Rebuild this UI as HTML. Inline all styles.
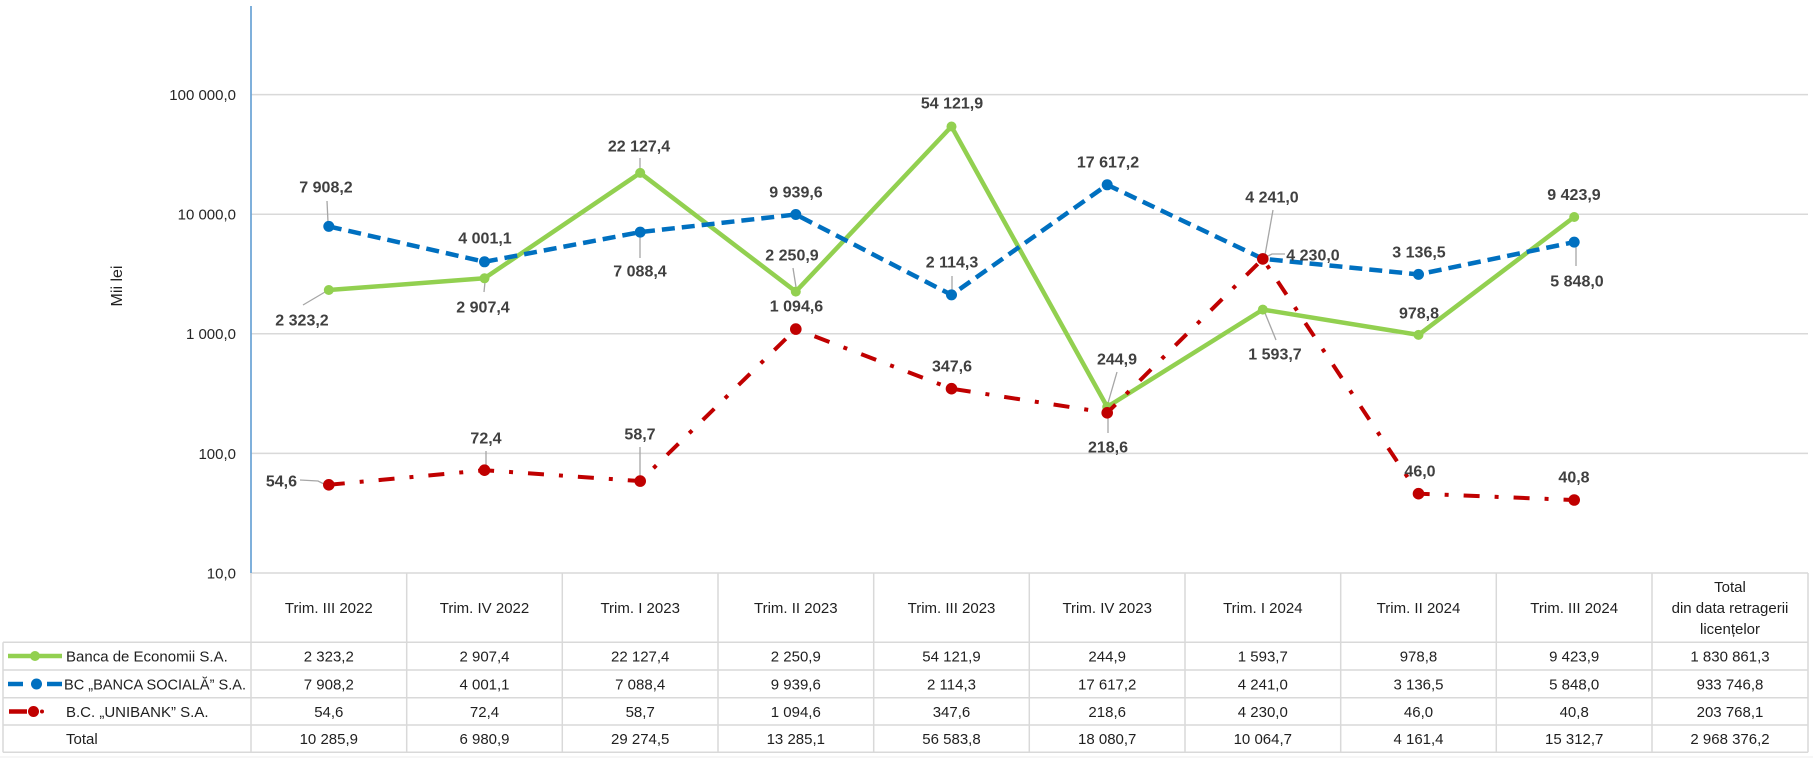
<!DOCTYPE html>
<html>
<head>
<meta charset="utf-8">
<style>
  html, body { margin: 0; padding: 0; background: #ffffff; }
  body { width: 1813px; height: 759px; overflow: hidden; }
  svg { display: block; }
  .tick { font-family: "Liberation Sans", sans-serif; font-size: 15px; fill: #262626; }
  .dl { font-family: "Liberation Sans", sans-serif; font-size: 16px; font-weight: bold; fill: #404040; }
  .tb { font-family: "Liberation Sans", sans-serif; font-size: 15px; fill: #1f1f1f; }
  .ld { stroke: #a6a6a6; stroke-width: 1.3; fill: none; }
</style>
</head>
<body>
<svg width="1813" height="759" viewBox="0 0 1813 759" xmlns="http://www.w3.org/2000/svg">
  <!-- gridlines -->
  <g stroke="#d9d9d9" stroke-width="1.5">
    <line x1="251" y1="94.6" x2="1808" y2="94.6"/>
    <line x1="251" y1="214.2" x2="1808" y2="214.2"/>
    <line x1="251" y1="333.8" x2="1808" y2="333.8"/>
    <line x1="251" y1="453.4" x2="1808" y2="453.4"/>
  </g>

  <!-- y axis labels -->
  <g class="tick" text-anchor="end">
    <text x="236" y="100">100 000,0</text>
    <text x="236" y="219.6">10 000,0</text>
    <text x="236" y="339.2">1 000,0</text>
    <text x="236" y="458.8">100,0</text>
    <text x="236" y="578.4">10,0</text>
  </g>
  <text transform="translate(122,286) rotate(-90)" text-anchor="middle" font-family="Liberation Sans, sans-serif" font-size="16" fill="#1f1f1f">Mii lei</text>

  <!-- table -->
  <g stroke="#d9d9d9" stroke-width="1.5" fill="none">
    <line x1="251" y1="573" x2="1808" y2="573"/>
    <line x1="3" y1="642.3" x2="1808" y2="642.3"/>
    <line x1="3" y1="670" x2="1808" y2="670"/>
    <line x1="3" y1="697.7" x2="1808" y2="697.7"/>
    <line x1="3" y1="725" x2="1808" y2="725"/>
    <line x1="3" y1="752.3" x2="1808" y2="752.3"/>
    <line x1="3" y1="642.3" x2="3" y2="752.3"/>
    <line x1="406.7" y1="573" x2="406.7" y2="752.3"/>
    <line x1="562.3" y1="573" x2="562.3" y2="752.3"/>
    <line x1="718" y1="573" x2="718" y2="752.3"/>
    <line x1="873.7" y1="573" x2="873.7" y2="752.3"/>
    <line x1="1029.3" y1="573" x2="1029.3" y2="752.3"/>
    <line x1="1185" y1="573" x2="1185" y2="752.3"/>
    <line x1="1340.7" y1="573" x2="1340.7" y2="752.3"/>
    <line x1="1496.3" y1="573" x2="1496.3" y2="752.3"/>
    <line x1="1652" y1="573" x2="1652" y2="752.3"/>
    <line x1="1808" y1="573" x2="1808" y2="752.3"/>
  </g>
  <line x1="0" y1="757" x2="1813" y2="757" stroke="#ececec" stroke-width="1"/>

  <!-- left axis -->
  <line x1="251" y1="6" x2="251" y2="752.3" stroke="#d9d9d9" stroke-width="1.5"/>
  <line x1="251" y1="6" x2="251" y2="573" stroke="#5b9bd5" stroke-width="1.5"/>

  <!-- header texts -->
  <g class="tb" text-anchor="middle">
    <text x="328.8" y="613">Trim. III 2022</text>
    <text x="484.5" y="613">Trim. IV 2022</text>
    <text x="640.2" y="613">Trim. I 2023</text>
    <text x="795.8" y="613">Trim. II 2023</text>
    <text x="951.5" y="613">Trim. III 2023</text>
    <text x="1107.2" y="613">Trim. IV 2023</text>
    <text x="1262.8" y="613">Trim. I 2024</text>
    <text x="1418.5" y="613">Trim. II 2024</text>
    <text x="1574.2" y="613">Trim. III 2024</text>
    <text x="1730" y="592">Total</text>
    <text x="1730" y="613">din data retragerii</text>
    <text x="1730" y="634">licențelor</text>
  </g>

  <!-- legend keys -->
  <line x1="8" y1="656" x2="62" y2="656" stroke="#92d050" stroke-width="4.5"/>
  <circle cx="35" cy="656" r="5" fill="#92d050"/>
  <line x1="8" y1="684" x2="23" y2="684" stroke="#0070c0" stroke-width="4.5"/>
  <line x1="47" y1="684" x2="62" y2="684" stroke="#0070c0" stroke-width="4.5"/>
  <circle cx="36.5" cy="684" r="5.5" fill="#0070c0"/>
  <line x1="9" y1="711.5" x2="27" y2="711.5" stroke="#c00000" stroke-width="4.5"/>
  <circle cx="33.5" cy="711.5" r="5.5" fill="#c00000"/>
  <circle cx="42" cy="711.5" r="2" fill="#c00000"/>

  <!-- row labels -->
  <g class="tb">
    <text x="66" y="661.4">Banca de Economii S.A.</text>
    <text x="64" y="689.4" textLength="182" lengthAdjust="spacingAndGlyphs">BC „BANCA SOCIALĂ” S.A.</text>
    <text x="66" y="716.9">B.C. „UNIBANK” S.A.</text>
    <text x="66" y="744.1">Total</text>
  </g>

  <!-- table values -->
  <g class="tb" text-anchor="middle">
    <text x="328.8" y="661.4">2 323,2</text>
    <text x="484.5" y="661.4">2 907,4</text>
    <text x="640.2" y="661.4">22 127,4</text>
    <text x="795.8" y="661.4">2 250,9</text>
    <text x="951.5" y="661.4">54 121,9</text>
    <text x="1107.2" y="661.4">244,9</text>
    <text x="1262.8" y="661.4">1 593,7</text>
    <text x="1418.5" y="661.4">978,8</text>
    <text x="1574.2" y="661.4">9 423,9</text>
    <text x="1730" y="661.4">1 830 861,3</text>

    <text x="328.8" y="689.4">7 908,2</text>
    <text x="484.5" y="689.4">4 001,1</text>
    <text x="640.2" y="689.4">7 088,4</text>
    <text x="795.8" y="689.4">9 939,6</text>
    <text x="951.5" y="689.4">2 114,3</text>
    <text x="1107.2" y="689.4">17 617,2</text>
    <text x="1262.8" y="689.4">4 241,0</text>
    <text x="1418.5" y="689.4">3 136,5</text>
    <text x="1574.2" y="689.4">5 848,0</text>
    <text x="1730" y="689.4">933 746,8</text>

    <text x="328.8" y="716.9">54,6</text>
    <text x="484.5" y="716.9">72,4</text>
    <text x="640.2" y="716.9">58,7</text>
    <text x="795.8" y="716.9">1 094,6</text>
    <text x="951.5" y="716.9">347,6</text>
    <text x="1107.2" y="716.9">218,6</text>
    <text x="1262.8" y="716.9">4 230,0</text>
    <text x="1418.5" y="716.9">46,0</text>
    <text x="1574.2" y="716.9">40,8</text>
    <text x="1730" y="716.9">203 768,1</text>

    <text x="328.8" y="744.1">10 285,9</text>
    <text x="484.5" y="744.1">6 980,9</text>
    <text x="640.2" y="744.1">29 274,5</text>
    <text x="795.8" y="744.1">13 285,1</text>
    <text x="951.5" y="744.1">56 583,8</text>
    <text x="1107.2" y="744.1">18 080,7</text>
    <text x="1262.8" y="744.1">10 064,7</text>
    <text x="1418.5" y="744.1">4 161,4</text>
    <text x="1574.2" y="744.1">15 312,7</text>
    <text x="1730" y="744.1">2 968 376,2</text>
  </g>

  <!-- leader lines -->
  <g class="ld">
    <line x1="303" y1="305" x2="325" y2="292"/>
    <line x1="484" y1="292" x2="485" y2="282"/>
    <line x1="640" y1="158" x2="640" y2="169"/>
    <line x1="793" y1="268" x2="796" y2="287"/>
    <line x1="1117" y1="372" x2="1108" y2="403"/>
    <line x1="1276" y1="340" x2="1265" y2="313"/>
    <line x1="327" y1="201" x2="328" y2="222"/>
    <line x1="640" y1="236" x2="640" y2="258"/>
    <line x1="952" y1="276" x2="952" y2="291"/>
    <line x1="1273" y1="210" x2="1265" y2="255"/>
    <line x1="1576" y1="246" x2="1576" y2="266"/>
    <polyline points="300,480 318,481 326,485"/>
    <line x1="486" y1="451" x2="486" y2="467"/>
    <line x1="640" y1="447" x2="640" y2="478"/>
    <line x1="1108" y1="416" x2="1108" y2="433"/>
    <polyline points="1285,254 1272,254 1266,257"/>
  </g>

  <!-- series: green -->
  <polyline fill="none" stroke="#92d050" stroke-width="4.5" stroke-linejoin="round"
    points="328.8,290.0 484.5,278.3 640.2,172.9 795.8,291.6 951.5,126.5 1107.2,406.9 1262.8,309.6 1418.5,334.9 1574.2,217.0"/>
  <g fill="#92d050">
    <circle cx="328.8" cy="290.0" r="5"/>
    <circle cx="484.5" cy="278.3" r="5"/>
    <circle cx="640.2" cy="172.9" r="5"/>
    <circle cx="795.8" cy="291.6" r="5"/>
    <circle cx="951.5" cy="126.5" r="5"/>
    <circle cx="1107.2" cy="406.9" r="5"/>
    <circle cx="1262.8" cy="309.6" r="5"/>
    <circle cx="1418.5" cy="334.9" r="5"/>
    <circle cx="1574.2" cy="217.0" r="5"/>
  </g>

  <!-- series: blue -->
  <polyline fill="none" stroke="#0070c0" stroke-width="4.5" stroke-dasharray="13 7"
    points="328.8,226.4 484.5,261.8 640.2,232.1 795.8,214.5 951.5,294.9 1107.2,184.8 1262.8,258.8 1418.5,274.4 1574.2,242.1"/>
  <g fill="#0070c0">
    <circle cx="328.8" cy="226.4" r="5.5"/>
    <circle cx="484.5" cy="261.8" r="5.5"/>
    <circle cx="640.2" cy="232.1" r="5.5"/>
    <circle cx="795.8" cy="214.5" r="5.5"/>
    <circle cx="951.5" cy="294.9" r="5.5"/>
    <circle cx="1107.2" cy="184.8" r="5.5"/>
    <circle cx="1262.8" cy="258.8" r="5.5"/>
    <circle cx="1418.5" cy="274.4" r="5.5"/>
    <circle cx="1574.2" cy="242.1" r="5.5"/>
  </g>

  <!-- series: red -->
  <polyline fill="none" stroke="#c00000" stroke-width="4" stroke-dasharray="16 15 4 15"
    points="328.8,484.8 484.5,470.2 640.2,481.1 795.8,329.1 951.5,388.7 1107.2,412.8 1262.8,258.9 1418.5,493.7 1574.2,500.0"/>
  <g fill="#c00000">
    <circle cx="328.8" cy="484.8" r="5.8"/>
    <circle cx="484.5" cy="470.2" r="5.8"/>
    <circle cx="640.2" cy="481.1" r="5.8"/>
    <circle cx="795.8" cy="329.1" r="5.8"/>
    <circle cx="951.5" cy="388.7" r="5.8"/>
    <circle cx="1107.2" cy="412.8" r="5.8"/>
    <circle cx="1262.8" cy="258.9" r="5.8"/>
    <circle cx="1418.5" cy="493.7" r="5.8"/>
    <circle cx="1574.2" cy="500.0" r="5.8"/>
  </g>

  <!-- data labels -->
  <g class="dl" text-anchor="middle">
    <text x="302" y="325.7">2 323,2</text>
    <text x="483" y="312.7">2 907,4</text>
    <text x="639" y="151.7">22 127,4</text>
    <text x="792" y="260.7">2 250,9</text>
    <text x="952" y="108.7">54 121,9</text>
    <text x="1117" y="364.7">244,9</text>
    <text x="1275" y="359.7">1 593,7</text>
    <text x="1419" y="318.7">978,8</text>
    <text x="1574" y="200.2">9 423,9</text>

    <text x="326" y="192.7">7 908,2</text>
    <text x="485" y="243.7">4 001,1</text>
    <text x="640" y="276.7">7 088,4</text>
    <text x="796" y="197.7">9 939,6</text>
    <text x="952" y="267.7">2 114,3</text>
    <text x="1108" y="167.7">17 617,2</text>
    <text x="1272" y="202.7">4 241,0</text>
    <text x="1419" y="257.7">3 136,5</text>
    <text x="1577" y="286.7">5 848,0</text>

    <text x="486" y="443.7">72,4</text>
    <text x="640" y="439.7">58,7</text>
    <text x="796.5" y="311.7">1 094,6</text>
    <text x="952" y="371.7">347,6</text>
    <text x="1108" y="452.7">218,6</text>
    <text x="1313" y="260.7">4 230,0</text>
    <text x="1420" y="476.7">46,0</text>
    <text x="1574" y="482.7">40,8</text>
  </g>
  <text class="dl" x="297" y="486.7" text-anchor="end">54,6</text>
</svg>
</body>
</html>
